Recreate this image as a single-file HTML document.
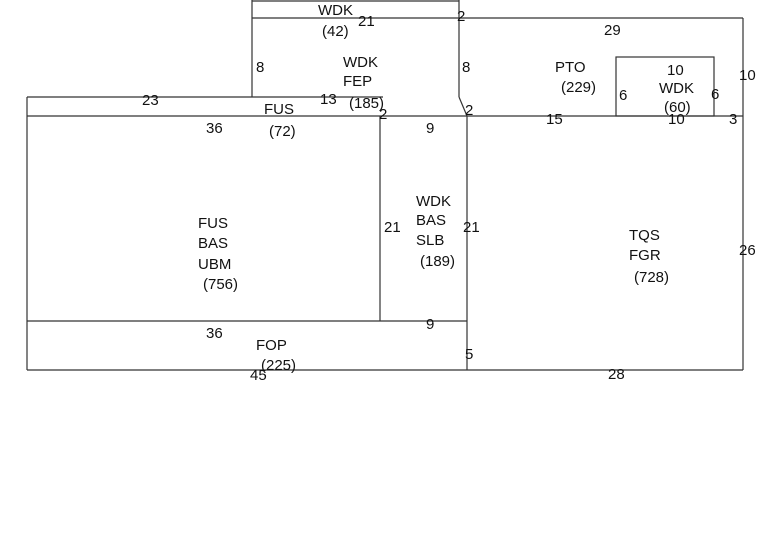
<!DOCTYPE html>
<html><head><style>
body{margin:0;background:#fff;width:757px;height:541px;overflow:hidden}
svg text{font-family:"Liberation Sans",sans-serif;font-size:15px;fill:#111}
</style></head><body>
<svg width="757" height="541" xmlns="http://www.w3.org/2000/svg">
<g stroke="#333" stroke-width="1.2" fill="none">
<line x1="252" y1="0" x2="252" y2="97"/>
<line x1="252" y1="1" x2="459" y2="1"/>
<line x1="252" y1="18" x2="743" y2="18"/>
<line x1="459" y1="0" x2="459" y2="97"/>
<line x1="459" y1="97" x2="467" y2="116"/>
<line x1="27" y1="97" x2="383" y2="97"/>
<line x1="27" y1="116" x2="743" y2="116"/>
<line x1="743" y1="18" x2="743" y2="370"/>
<rect x="616" y="57" width="98" height="59"/>
<line x1="380" y1="116" x2="380" y2="321"/>
<line x1="467" y1="116" x2="467" y2="370"/>
<line x1="27" y1="97" x2="27" y2="370"/>
<line x1="27" y1="321" x2="467" y2="321"/>
<line x1="27" y1="370" x2="743" y2="370"/>
</g>
<text x="318" y="15">WDK</text><text x="358" y="26">21</text><text x="322" y="36">(42)</text>
<text x="457" y="21">2</text><text x="604" y="35">29</text>
<text x="256" y="72">8</text><text x="462" y="72">8</text>
<text x="343" y="67">WDK</text><text x="343" y="86">FEP</text><text x="349" y="108">(185)</text>
<text x="555" y="72">PTO</text><text x="561" y="92">(229)</text>
<text x="667" y="75">10</text><text x="659" y="93">WDK</text><text x="664" y="112">(60)</text>
<text x="619" y="100">6</text><text x="711" y="99">6</text><text x="739" y="80">10</text>
<text x="142" y="105">23</text><text x="320" y="104">13</text><text x="264" y="114">FUS</text><text x="269" y="136">(72)</text>
<text x="379" y="119">2</text><text x="465" y="115">2</text><text x="546" y="124">15</text><text x="668" y="124">10</text><text x="729" y="124">3</text>
<text x="206" y="133">36</text><text x="426" y="133">9</text>
<text x="198" y="228">FUS</text><text x="198" y="248">BAS</text><text x="198" y="269">UBM</text><text x="203" y="289">(756)</text>
<text x="384" y="232">21</text><text x="463" y="232">21</text>
<text x="416" y="206">WDK</text><text x="416" y="225">BAS</text><text x="416" y="245">SLB</text><text x="420" y="266">(189)</text>
<text x="629" y="240">TQS</text><text x="629" y="260">FGR</text><text x="634" y="282">(728)</text><text x="739" y="255">26</text>
<text x="206" y="338">36</text><text x="426" y="329">9</text>
<text x="256" y="350">FOP</text><text x="261" y="370">(225)</text><text x="250" y="380">45</text>
<text x="465" y="359">5</text><text x="608" y="379">28</text>
</svg>
</body></html>
